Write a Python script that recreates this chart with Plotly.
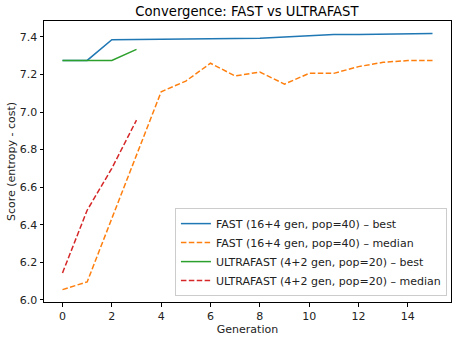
import plotly.graph_objects as go

gen_fast = list(range(16))
fast_best = [7.275, 7.275, 7.385, 7.386, 7.388, 7.388, 7.388, 7.390, 7.393, 7.400,
             7.408, 7.413, 7.413, 7.414, 7.418, 7.418]
fast_median = [6.054, 6.095, 6.433, 6.769, 7.108, 7.165, 7.260, 7.192, 7.213, 7.149,
               7.206, 7.206, 7.242, 7.265, 7.274, 7.274]
gen_ultra = list(range(4))
ultra_best = [7.275, 7.275, 7.275, 7.334]
ultra_median = [6.143, 6.477, 6.700, 6.957]

names = ["FAST (16+4 gen, pop=40) – best", "FAST (16+4 gen, pop=40) – median",
         "ULTRAFAST (4+2 gen, pop=20) – best", "ULTRAFAST (4+2 gen, pop=20) – median"]
colors = ["#1f77b4", "#ff7f0e", "#2ca02c", "#d62728"]
dashpat = "5.5px,2.4px"

fig = go.Figure()
series = [(gen_fast, fast_best, "solid"), (gen_fast, fast_median, dashpat),
          (gen_ultra, ultra_best, "solid"), (gen_ultra, ultra_median, dashpat)]
for (x, y, d), n, c in zip(series, names, colors):
    fig.add_trace(go.Scatter(x=x, y=y, mode="lines", name=n,
                             line=dict(color=c, width=1.5, dash=d)))

font = "DejaVu Sans"
fs = 11
axis_common = dict(showline=True, linecolor="black", linewidth=1, mirror=True,
                   ticks="outside", ticklen=3.5, tickwidth=0.8, tickcolor="black",
                   showgrid=False, zeroline=False,
                   tickfont=dict(family=font, size=fs, color="#222222"))
fig.update_layout(
    width=459, height=338,
    margin=dict(l=44, r=8, t=21, b=36),
    plot_bgcolor="white", paper_bgcolor="white",
    title=dict(text="Convergence: FAST vs ULTRAFAST", x=0.538, xanchor="center",
               y=1 - 11 / 338, yanchor="middle",
               font=dict(family=font, size=13.2, color="black")),
    xaxis=dict(range=[-0.75, 15.75], tickvals=[0, 2, 4, 6, 8, 10, 12, 14],
               title=dict(text="Generation", font=dict(family=font, size=fs, color="#222222"),
                          standoff=0),
               **axis_common),
    yaxis=dict(range=[5.988, 7.485], tickvals=[6.0, 6.2, 6.4, 6.6, 6.8, 7.0, 7.2, 7.4],
               tickformat=".1f",
               title=dict(text="Score (entropy - cost)", font=dict(family=font, size=fs, color="#222222"),
                          standoff=1),
               **axis_common),
    legend=dict(x=0.99, y=0.021, xanchor="right", yanchor="bottom",
                bgcolor="rgba(255,255,255,0.8)", bordercolor="#cccccc", borderwidth=1,
                font=dict(family=font, size=fs, color="#222222"),
                tracegroupgap=0, itemwidth=30),
    showlegend=True,
)
fig.write_html("out.html")
